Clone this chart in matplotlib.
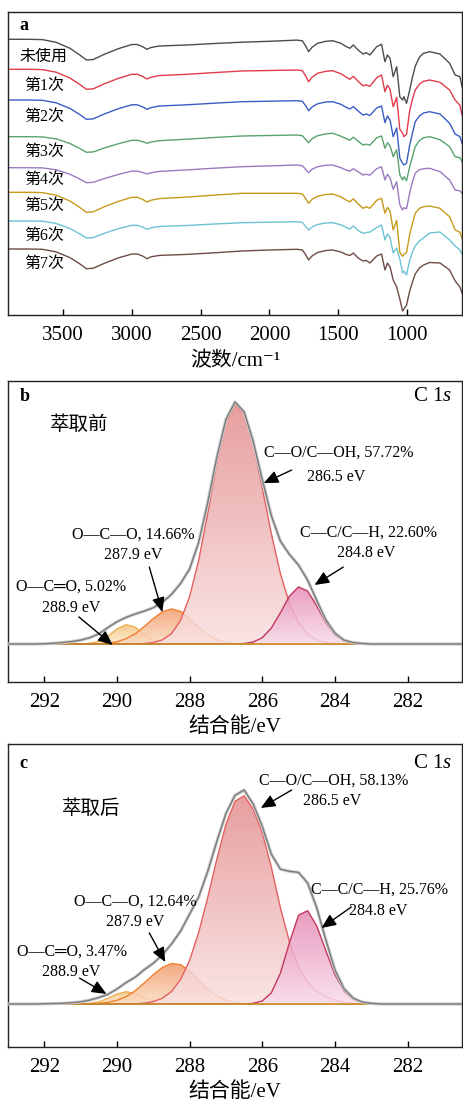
import numpy as np
import matplotlib
matplotlib.use('Agg')
import matplotlib.pyplot as plt
from matplotlib.colors import LinearSegmentedColormap
from matplotlib.patches import PathPatch

plt.rcParams['font.family'] = ['Liberation Serif', 'DejaVu Sans', 'Noto Sans CJK SC']
plt.rcParams['mathtext.fontset'] = 'custom'
plt.rcParams['mathtext.rm'] = 'Liberation Serif'
plt.rcParams['mathtext.it'] = 'Liberation Serif:italic'

# ---------------- FTIR (panel a) ----------------
wavenumber = [3900, 3750, 3650, 3550, 3450, 3380, 3330, 3280, 3200, 3100, 3000, 2960, 2920, 2890, 2860,
              2800, 2600, 2400, 2200, 2000, 1800, 1760, 1735, 1715, 1690, 1650, 1590, 1540, 1480, 1440,
              1415, 1390, 1355, 1320, 1295, 1270, 1220, 1185, 1160, 1142, 1123, 1100, 1075, 1052, 1032,
              1022, 1003, 980, 960, 940, 910, 880, 835, 760, 690, 650, 615, 600]

# absorption depth of each spectrum (arb. units, measured down from its own start)
unused = [0, 0, 0.3, 3, 9, 15.5, 20.7, 20.2, 15, 9.5, 5.2, 5.2, 7.5, 10, 8.2, 6.7, 5.7, 4.2, 2.9, 2.0,
          0.8, 1.5, 7, 12.4, 8, 4, 2, 1.4, 4, 7.4, 9, 5.7, 10.7, 14.7, 13.4, 15.7, 7.4, 5, 22.4, 15.7,
          19, 37.4, 27.4, 57.4, 60.7, 57.4, 64, 50.7, 38, 27, 18, 14, 12.4, 14.7, 24, 35.7, 37.4, 47.4]
run1 = [0, 0, 0.3, 2.9, 8.7, 15, 20, 19.5, 14.5, 9.2, 5, 5, 7.2, 9.7, 7.9, 6.3, 5.0, 3.3, 1.7, 1.2,
        0.7, 1.4, 7, 12.4, 8, 4, 2, 1.4, 4.5, 8, 10, 7, 12, 16.5, 15.5, 17, 8.5, 5.7, 22.4, 16,
        20, 37.4, 28, 60, 63.7, 67.4, 65, 41, 30, 20.7, 15, 12, 10.7, 13, 20.7, 30.7, 36, 45.7]
run2 = [0, 0, 0.3, 2.8, 8.4, 14.4, 19.3, 18.8, 14, 8.8, 4.8, 4.8, 7, 9.3, 7.6, 6, 4.8, 3.2, 1.7, 1.2,
        0.7, 1.4, 6, 10.7, 7, 3.8, 2, 1.7, 4.3, 7.5, 9, 6.5, 11, 15, 14, 15.5, 8, 6, 22.7, 16,
        20, 36.7, 28, 58, 63.3, 65, 63, 45, 33, 21.7, 16, 13, 11.7, 14, 23.3, 34, 36.7, 43.3]
run3 = [0, 0, 0.2, 2.2, 6.8, 11.7, 15.6, 15.2, 11.3, 7.1, 3.6, 3.6, 5, 6.6, 5.3, 4.0, 2.5, 0.8, -0.7, -1.2,
        -1.7, -1, 3, 6, 2, -1, -2.8, -3.4, -0.5, 2, 3.5, 0.5, 4.5, 8.3, 7.5, 8.5, 1, -0.7, 11.6, 6,
        9, 20, 13, 38, 43.3, 40, 44, 30, 20, 10, 4, 1, 0, 3, 10, 20, 21, 25]
run4 = [0, 0, 0.2, 2.1, 6.5, 11.2, 15, 14.6, 10.9, 6.8, 3.4, 3.4, 4.8, 6.3, 5, 3.7, 2.2, 0.5, -1, -1.8,
        -2.7, -2, 2, 5, 1.5, -1, -2.5, -2.7, 0, 2.5, 3.5, 1, 4, 7.3, 6.5, 7.5, 1, -1, 12.3, 6.5,
        10, 21.6, 14, 37, 42.3, 40, 41, 25, 14, 5.6, 2, 1, 0.6, 4, 12.3, 22.3, 23, 25.6]
run5 = [0, 0, 0.3, 2.9, 8.7, 15, 20, 19.5, 14.5, 9.2, 5, 5, 7.2, 9.7, 7.9, 6.3, 4.8, 2.8, 1, 1,
        1, 1.7, 6.5, 11, 7, 4, 2.2, 1.7, 4.5, 8, 9.5, 6.5, 11.5, 16, 14.5, 16, 8, 6, 21, 15,
        19, 37.7, 28, 60, 64, 62, 60, 42, 31, 21, 16, 14.5, 13.7, 16, 24.4, 37.7, 40, 46]
run6 = [0, 0, 0.2, 2.5, 7.4, 12.7, 17, 16.6, 12.3, 7.8, 4.3, 4.3, 6.2, 8.3, 6.8, 5.5, 4.5, 3, 1.7, 1.2,
        0.7, 1.4, 5.5, 9, 6, 3.5, 2, 1.7, 3.8, 6.5, 8, 5, 9.5, 12.3, 11.5, 11, 6.5, 4, 19, 13,
        16.5, 32, 27, 38, 52, 50, 54, 39, 31, 25, 20, 17, 12, 11, 19, 25, 29, 33]
run7 = [0, 0, 0.3, 2.9, 8.6, 14.7, 19.7, 19.2, 14.3, 9, 5, 5, 7.1, 9.7, 7.8, 6.4, 5.4, 3.8, 2, 1,
        0.3, 1, 6, 11, 7, 3.5, 1.5, 1, 3, 5.5, 6.5, 4, 9, 12, 11.5, 14, 7, 5, 21, 14,
        18, 31, 38, 50, 62, 60, 56, 42, 33, 25, 19, 16, 13.5, 14, 21, 32, 38, 44]

run_labels = ['未使用', '第1次', '第2次', '第3次', '第4次', '第5次', '第6次', '第7次']
run_colors = ['#4d4d4d', '#e03c4a', '#3b5cc4', '#5aa36e', '#9b7bc0', '#c89a1c', '#6ec3d3', '#6e4b47']
ftir_ticks = [3500, 3000, 2500, 2000, 1500, 1000]

# ---------------- XPS C1s (panels b, c) ----------------
energy = [293.0, 292.75, 292.5, 292.25, 292.0, 291.75, 291.5, 291.25, 291.0, 290.75, 290.5, 290.25,
          290.0, 289.75, 289.5, 289.25, 289.0, 288.75, 288.5, 288.25, 288.0, 287.75, 287.5, 287.25,
          287.0, 286.75, 286.5, 286.25, 286.0, 285.75, 285.5, 285.25, 285.0, 284.75, 284.5, 284.25,
          284.0, 283.75, 283.5, 283.25, 283.0, 282.75, 282.5, 282.25, 282.0, 281.75, 281.5, 281.25,
          281.0, 280.75, 280.5]

# before extraction
b_oco2 = [0.0] * 9 + [0.003, 0.011, 0.032, 0.062, 0.080, 0.070, 0.041, 0.017, 0.004, 0.001] + [0.0] * 32
b_oco = [0.0] * 10 + [0.001, 0.004, 0.009, 0.022, 0.042, 0.072, 0.105, 0.133, 0.145, 0.135, 0.105,
                      0.069, 0.038, 0.018, 0.007, 0.002, 0.001] + [0.0] * 24
b_co = [0.0] * 15 + [0.002, 0.006, 0.017, 0.043, 0.097, 0.196, 0.346, 0.541, 0.749, 0.916, 0.990,
                     0.951, 0.826, 0.646, 0.457, 0.291, 0.167, 0.087, 0.041, 0.017, 0.007, 0.002] + [0.0] * 14
b_cc = [0.0] * 26 + [0.002, 0.008, 0.026, 0.066, 0.129, 0.198, 0.236, 0.219, 0.158, 0.089, 0.039,
                     0.013, 0.004, 0.001] + [0.0] * 11
b_raw = [0, 0, 0, 0, 0.001, 0.003, 0.006, 0.01, 0.016, 0.026, 0.042, 0.068, 0.092, 0.11, 0.124, 0.136,
         0.15, 0.172, 0.205, 0.25, 0.31, 0.42, 0.585, 0.772, 0.928, 1.0, 0.96, 0.838, 0.68, 0.53, 0.425,
         0.37, 0.326, 0.264, 0.18, 0.10, 0.045, 0.016, 0.006, 0.002] + [0.0] * 11

# after extraction
c_oco2 = [0.0] * 8 + [0.001, 0.003, 0.010, 0.026, 0.046, 0.057, 0.050, 0.030, 0.013, 0.004, 0.001] + [0.0] * 32
c_oco = [0.0] * 10 + [0.003, 0.008, 0.017, 0.034, 0.062, 0.098, 0.137, 0.171, 0.189, 0.184, 0.154,
                      0.112, 0.070, 0.038, 0.018, 0.007, 0.002, 0.001] + [0.0] * 23
c_co = [0.0] * 15 + [0.004, 0.011, 0.027, 0.058, 0.114, 0.204, 0.334, 0.498, 0.677, 0.839, 0.947,
                     0.973, 0.912, 0.80, 0.64, 0.45, 0.29, 0.17, 0.10, 0.06, 0.035, 0.018, 0.008, 0.003] + [0.0] * 12
c_cc = [0.0] * 27 + [0.003, 0.014, 0.052, 0.144, 0.287, 0.415, 0.436, 0.365, 0.25, 0.138, 0.062,
                     0.023, 0.007, 0.002] + [0.0] * 10
c_raw = [0, 0, 0, 0, 0.001, 0.002, 0.003, 0.006, 0.01, 0.018, 0.03, 0.045, 0.07, 0.10, 0.125, 0.16,
         0.19, 0.23, 0.28, 0.34, 0.42, 0.50, 0.62, 0.76, 0.89, 0.975, 1.0, 0.935, 0.83, 0.70, 0.63,
         0.62, 0.615, 0.565, 0.45, 0.30, 0.16, 0.072, 0.028, 0.009, 0.003] + [0.0] * 10

xps_ticks = [292, 290, 288, 286, 284, 282]

# peak labels: (name, share, position)
b_labels = [('O—C═O, 5.02%', '288.9 eV'), ('O—C—O, 14.66%', '287.9 eV'),
            ('C—O/C—OH, 57.72%', '286.5 eV'), ('C—C/C—H, 22.60%', '284.8 eV')]
c_labels = [('O—C═O, 3.47%', '288.9 eV'), ('O—C—O, 12.64%', '287.9 eV'),
            ('C—O/C—OH, 58.13%', '286.5 eV'), ('C—C/C—H, 25.76%', '284.8 eV')]


def shade(ax, x, y, top, bottom, edge, z):
    # component peak with a vertical colour gradient
    x = np.asarray(x, float)
    y = np.asarray(y, float)
    poly = ax.fill_between(x, 0, y, facecolor='none', edgecolor='none', zorder=z)
    clip = PathPatch(poly.get_paths()[0], transform=ax.transData, facecolor='none', edgecolor='none')
    ax.add_patch(clip)
    cmap = LinearSegmentedColormap.from_list('g', [bottom, top])
    im = ax.imshow(np.linspace(0, 1, 128).reshape(-1, 1), cmap=cmap, origin='lower', aspect='auto',
                   extent=(x.min(), x.max(), 0, y.max()), zorder=z, alpha=0.85, interpolation='bilinear')
    im.set_clip_path(clip)
    ax.plot(x, y, color=edge, lw=1.0, zorder=z + 0.1, solid_joinstyle='round')


def style_axis(ax, ticks):
    for s in ax.spines.values():
        s.set_linewidth(1.0)
        s.set_color('#222222')
    ax.set_yticks([])
    ax.set_xticks(ticks)
    ax.tick_params(axis='x', direction='in', length=4, width=1, labelsize=15, pad=8)


fig = plt.figure(figsize=(4.63, 11.04), dpi=100)
L, W = 0.01728, 0.98056

# ---- panel a
ax = fig.add_axes([L, 0.71467, W, 0.27446])
offsets = [275.7, 245.7, 215, 178.3, 147.3, 122.7, 94, 66]
label_y = [0.851, 0.756, 0.653, 0.538, 0.446, 0.360, 0.261, 0.168]
for spec, off, col, lab, ly in zip([unused, run1, run2, run3, run4, run5, run6, run7], offsets,
                                   run_colors, run_labels, label_y):
    ax.plot(wavenumber, off - np.array(spec), color=col, lw=1.0, solid_joinstyle='round')
    ax.text(0.079, ly, lab, transform=ax.transAxes, ha='center', va='center', fontsize=11.5)
ax.set_xlim(3900, 600)
ax.set_ylim(0, 303)
style_axis(ax, ftir_ticks)
ax.set_xlabel('波数/cm⁻¹', fontsize=15, labelpad=5)
ax.text(0.026, 0.954, 'a', transform=ax.transAxes, fontsize=13, fontweight='bold', va='center')


def xps_panel(ax, comps, raw, labels, title, letter, ylim, pos):
    shade(ax, energy, comps[0], '#f3c27a', '#fbe9cd', '#f0b050', 2)
    shade(ax, energy, comps[1], '#f19a68', '#fcdcc2', '#f08030', 3)
    shade(ax, energy, comps[2], '#e48e8e', '#f9e0e0', '#e46060', 4)
    shade(ax, energy, comps[3], '#e68ab3', '#f8dceb', '#c0385e', 5)
    ax.axhline(0, color='#c8902a', lw=1.2, zorder=6)
    ax.plot(energy, raw, color='#cfcfcf', lw=2.4, zorder=7, solid_joinstyle='round')
    ax.plot(energy, raw, color='#7a7a7a', lw=1.0, zorder=8, solid_joinstyle='round')
    ax.set_xlim(293, 280.5)
    ax.set_ylim(*ylim)
    style_axis(ax, xps_ticks)
    ax.set_xlabel('结合能/eV', fontsize=15, labelpad=4)
    ax.text(0.026, pos['letter'], letter, transform=ax.transAxes, fontsize=13, fontweight='bold', va='center')
    ax.text(0.978, pos['letter'], 'C 1$\\mathit{s}$', transform=ax.transAxes, fontsize=15,
            ha='right', va='center')
    ax.text(*pos['title'], title, fontsize=14, ha='center', va='center')
    for (name, ev), (t1, t2, a0, a1) in zip(labels, pos['peaks']):
        ax.text(*t1, name, fontsize=11.5, ha='center', va='center', zorder=10)
        ax.text(*t2, ev, fontsize=11.5, ha='center', va='center', zorder=10)
        ax.annotate('', xy=a1, xytext=a0, zorder=10,
                    arrowprops=dict(arrowstyle='-|>,head_length=0.8,head_width=0.35', color='k',
                                    lw=1.0, mutation_scale=11, shrinkA=0, shrinkB=0))


# ---- panel b
ax = fig.add_axes([L, 0.38225, W, 0.27264])
pos_b = {'letter': 0.95, 'title': (291.03, 0.905),
         'peaks': [((291.25, 0.236), (291.25, 0.149), (291.05, 0.112), (290.12, -0.004)),
                   ((289.55, 0.45), (289.55, 0.368), (289.11, 0.318), (288.75, 0.132)),
                   ((283.90, 0.789), (283.96, 0.69), (285.19, 0.719), (285.96, 0.665)),
                   ((283.08, 0.459), (283.14, 0.376), (283.77, 0.318), (284.56, 0.244))]}
xps_panel(ax, [b_oco2, b_oco, b_co, b_cc], b_raw, b_labels, '萃取前', 'b', (-0.157, 1.087), pos_b)

# ---- panel c
ax = fig.add_axes([L, 0.05163, W, 0.27446])
pos_c = {'letter': 0.937, 'title': (290.70, 0.911),
         'peaks': [((291.25, 0.243), (291.25, 0.15), (291.03, 0.121), (290.29, 0.047)),
                   ((289.49, 0.477), (289.49, 0.383), (289.11, 0.332), (288.67, 0.196)),
                   ((284.04, 1.042), (284.07, 0.949), (285.19, 1.0), (286.04, 0.916)),
                   ((282.78, 0.533), (282.81, 0.435), (283.55, 0.453), (284.37, 0.355))]}
xps_panel(ax, [c_oco2, c_oco, c_co, c_cc], c_raw, c_labels, '萃取后', 'c', (-0.201, 1.215), pos_c)

fig.savefig('out.png', dpi=100)
